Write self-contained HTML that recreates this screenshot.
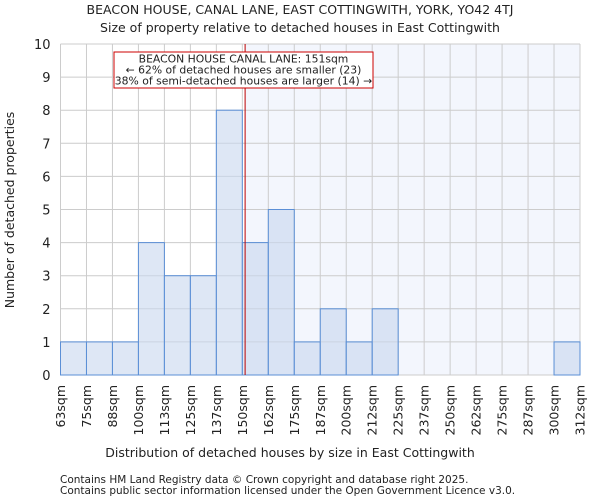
<!DOCTYPE html>
<html><head><meta charset="utf-8"><style>
body{margin:0;background:#fff;font-family:"DejaVu Sans","Liberation Sans",sans-serif;}
svg text{font-family:"DejaVu Sans","Liberation Sans",sans-serif;fill:#222;}
</style></head><body>
<svg id="c" width="600" height="500">
<text x="300" y="14" text-anchor="middle" font-size="12.5">BEACON HOUSE, CANAL LANE, EAST COTTINGWITH, YORK, YO42 4TJ</text>
<text x="300" y="32" text-anchor="middle" font-size="12.5">Size of property relative to detached houses in East Cottingwith</text>
<g id="plot"></g>
<text x="290" y="457" text-anchor="middle" font-size="12.5">Distribution of detached houses by size in East Cottingwith</text>
<text transform="translate(14,210) rotate(-90)" text-anchor="middle" font-size="12.5">Number of detached properties</text>
<text x="60" y="483" font-size="10.5" fill="#444">Contains HM Land Registry data © Crown copyright and database right 2025.</text>
<text x="60" y="494" font-size="10.5" fill="#444">Contains public sector information licensed under the Open Government Licence v3.0.</text>
</svg>
<script>
const tickLabels=["63sqm","75sqm","88sqm","100sqm","113sqm","125sqm","137sqm","150sqm","162sqm","175sqm","187sqm","200sqm","212sqm","225sqm","237sqm","250sqm","262sqm","275sqm","287sqm","300sqm","312sqm"];
const counts=[1,1,1,4,3,3,8,4,5,1,2,1,2,0,0,0,0,0,0,1];
const yTicks=[0,1,2,3,4,5,6,7,8,9,10];
const markerValue=151;
const binStart=63, binWidth=12.45;
const X0=60.5,X1=580,Y0=375,Y1=44;
const nb=counts.length, bw=(X1-X0)/nb;
const xs=v=>X0+(v-binStart)/binWidth*bw;
const ys=v=>Y0-(v/10)*(Y0-Y1);
const NS="http://www.w3.org/2000/svg";
const g=document.getElementById('plot');
function mk(t,a){const e=document.createElementNS(NS,t);for(const k in a)e.setAttribute(k,a[k]);g.appendChild(e);return e;}
const mx=xs(markerValue)+1;
let e=mk('rect',{x:mx,y:Y1,width:X1-mx,height:Y0-Y1,fill:'#f3f6fd'});


for(let i=0;i<=nb;i++){e=mk('line',{x1:X0+i*bw,x2:X0+i*bw,y1:Y1,y2:Y0,stroke:'#ccc','stroke-width':1});

}
yTicks.forEach(t=>{e=mk('line',{x1:X0,x2:X1,y1:ys(t),y2:ys(t),stroke:'#ccc','stroke-width':1});


e=mk('text',{x:X0-10,y:ys(t)+5,'text-anchor':'end','font-size':13});e.textContent=t;

});
counts.forEach((c,i)=>{if(!c)return;const x=X0+i*bw;
e=mk('rect',{x:x,y:ys(c),width:bw,height:Y0-ys(c),fill:'rgba(200,215,238,0.6)',stroke:'#5b8fd6','stroke-width':1});

});
tickLabels.forEach((l,i)=>{const x=X0+i*bw;
e=mk('text',{transform:`translate(${x+4.5},385) rotate(-90)`,'text-anchor':'end','font-size':12.5});e.textContent=l;

});
e=mk('line',{x1:mx,x2:mx,y1:Y1,y2:Y0,stroke:'#b00','stroke-width':1});


e=mk('rect',{x:114,y:52,width:259,height:36,fill:'#fff',stroke:'#c00','stroke-width':1});


["BEACON HOUSE CANAL LANE: 151sqm","← 62% of detached houses are smaller (23)","38% of semi-detached houses are larger (14) →"].forEach((s,i)=>{
e=mk('text',{x:243.5,y:62.5+i*11,'text-anchor':'middle','font-size':10.8});e.textContent=s;

});
</script>
</body></html>
